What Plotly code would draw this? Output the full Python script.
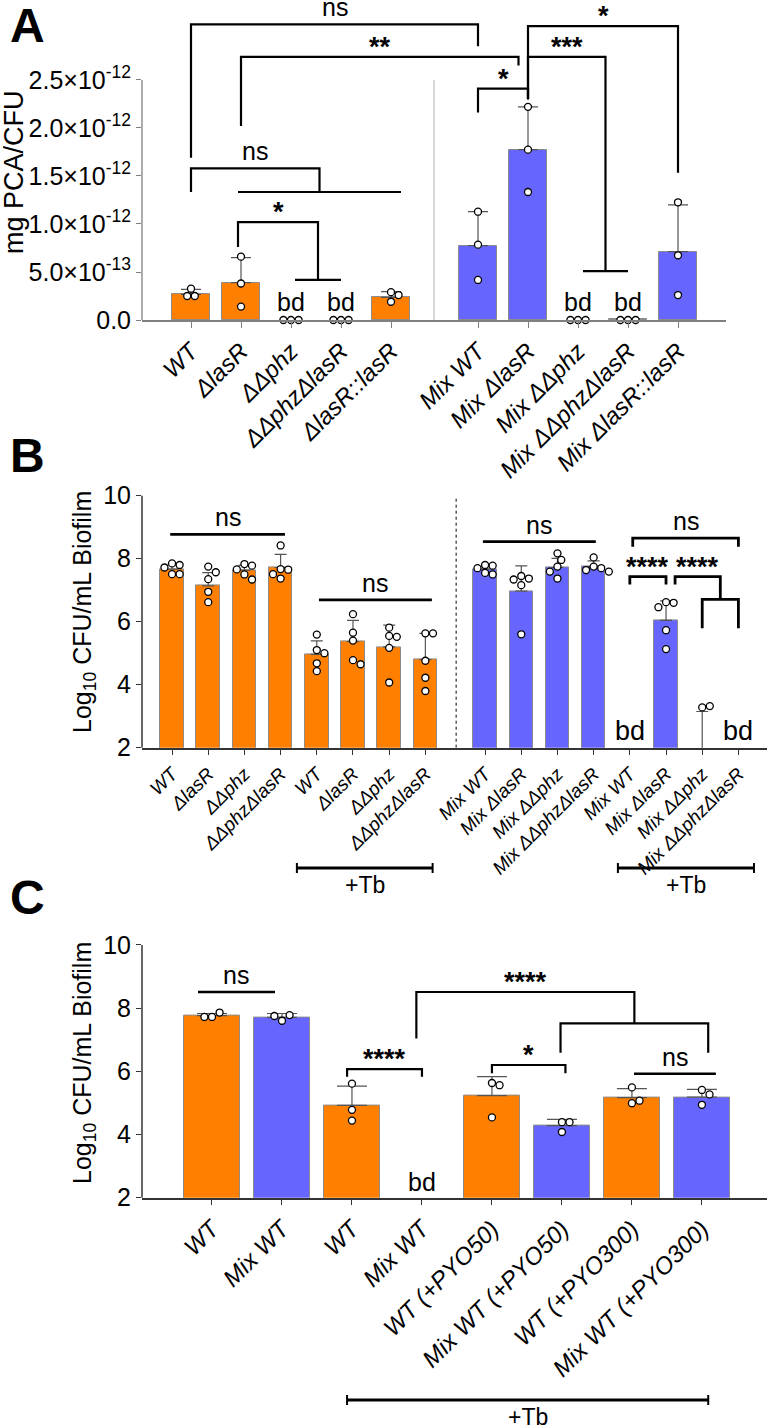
import plotly.graph_objects as go

W, H = 767, 1427
FONT = 'Liberation Sans, Arial, sans-serif'
ORANGE = '#FF8000'
BLUE = '#6666FF'

# ---- panel A : mg PCA/CFU (values in units of 1e-12) ----
a_labels = ['WT', 'ΔlasR', 'ΔΔphz', 'ΔΔphzΔlasR', 'ΔlasR::lasR',
            'Mix WT', 'Mix ΔlasR', 'Mix ΔΔphz', 'Mix ΔΔphzΔlasR', 'Mix ΔlasR::lasR']
a_mean = [0.267, 0.389, None, None, 0.236, 0.774, 1.774, None, 0.01, 0.712]
a_sd = [0.053, 0.26, 0, 0, 0.059, 0.354, 0.446, 0, 0, 0.488]
a_points = [[0.326, 0.25, 0.25], [0.66, 0.38, 0.14], [0, 0, 0], [0, 0, 0],
            [0.29, 0.26, 0.19], [1.128, 0.785, 0.417], [2.22, 1.774, 1.333],
            [0, 0, 0], [0, 0, 0], [1.226, 0.674, 0.26]]
a_bd = [2, 3, 7, 8]
a_yticks = [0, 0.5, 1.0, 1.5, 2.0, 2.5]
a_yticktext = ['0.0', '5.0×10<sup>-13</sup>', '1.0×10<sup>-12</sup>', '1.5×10<sup>-12</sup>',
               '2.0×10<sup>-12</sup>', '2.5×10<sup>-12</sup>']

# ---- panel B : Log10 CFU/mL biofilm ----
b_labels = ['WT', 'ΔlasR', 'ΔΔphz', 'ΔΔphzΔlasR', 'WT', 'ΔlasR', 'ΔΔphz', 'ΔΔphzΔlasR',
            'Mix WT', 'Mix ΔlasR', 'Mix ΔΔphz', 'Mix ΔΔphzΔlasR',
            'Mix WT', 'Mix ΔlasR', 'Mix ΔΔphz', 'Mix ΔΔphzΔlasR']
b_mean = [7.67, 7.14, 7.64, 7.72, 4.96, 5.37, 5.20, 4.80,
          7.67, 6.97, 7.72, 7.75, None, 6.04, 1.9, None]
b_sd = [0.13, 0.42, 0.15, 0.42, 0.43, 0.67, 0.69, 0.83,
        0.08, 0.80, 0.29, 0.18, 0, 0.62, 1.25, 0]
b_points = [[7.85, 7.8, 7.72, 7.51, 7.51], [7.75, 7.57, 7.35, 6.95, 6.62],
            [7.83, 7.78, 7.66, 7.5, 7.34], [8.42, 7.67, 7.65, 7.51, 7.37],
            [5.59, 5.1, 5.0, 4.68, 4.43], [6.24, 5.65, 5.4, 4.78, 4.65],
            [5.81, 5.55, 5.52, 5.17, 4.07], [5.63, 5.63, 4.76, 4.22, 3.8],
            [7.8, 7.78, 7.7, 7.55, 7.5], [7.45, 7.37, 7.34, 7.16, 5.6],
            [8.17, 7.96, 7.75, 7.59, 7.37], [8.04, 7.75, 7.7, 7.64, 7.59],
            [], [6.62, 6.6, 6.46, 5.73, 5.13], [3.28, 3.32], []]
b_bd = [12, 15]

# ---- panel C : Log10 CFU/mL biofilm, pyocyanin supplementation ----
c_labels = ['WT', 'Mix WT', 'WT', 'Mix WT', 'WT (+PYO50)', 'Mix WT (+PYO50)',
            'WT (+PYO300)', 'Mix WT (+PYO300)']
c_mean = [7.76, 7.71, 4.92, None, 5.23, 4.28, 5.17, 5.18]
c_sd = [0.07, 0.12, 0.61, 0, 0.60, 0.20, 0.28, 0.25]
c_points = [[7.72, 7.86, 7.72], [7.6, 7.78, 7.75], [5.61, 4.78, 4.44], [],
            [5.63, 5.56, 4.54], [4.39, 4.39, 4.08], [5.49, 4.99, 5.07], [5.41, 5.27, 4.94]]
c_bd = [3]
log_yticks = [2, 4, 6, 8, 10]

# positions (second group shifted to leave a gap)
pa = [i if i < 5 else i + 0.74 for i in range(len(a_labels))]
pb = [i if i < 8 else i + 0.65 for i in range(len(b_labels))]
pc = list(range(len(c_labels)))
a_colors = [ORANGE] * 5 + [BLUE] * 5
b_colors = [ORANGE] * 8 + [BLUE] * 8
c_colors = [ORANGE, BLUE] * 4


def mid(a, b):
    return (a + b) / 2


# panel geometry in pixels
geo = {
    '': dict(px=(142, 726), py=(0, 320), xr=(-0.98, 10.7), yr=(0, 3.333)),
    '2': dict(px=(142, 767), py=(489.4, 747.7), xr=(-0.83, 16.44), yr=(2, 10.2)),
    '3': dict(px=(142, 767), py=(938.6, 1197.7), xr=(-1.0, 7.93), yr=(2, 10.2)),
}
for g in geo.values():
    g['kx'] = (g['px'][1] - g['px'][0]) / (g['xr'][1] - g['xr'][0])
    g['ky'] = (g['py'][1] - g['py'][0]) / (g['yr'][1] - g['yr'][0])


def swarm(vals, kx, ky, diam=7.6):
    placed, offs = [], []
    for v in vals:
        y = v * ky
        side = 1 if sum(p[0] for p in placed) <= 0 else -1
        cands = sorted([k * diam / 2 for k in range(-10, 11)], key=lambda d: (abs(d), -side * d))
        for dx in cands:
            if all((dx - px) ** 2 + (y - py) ** 2 >= (diam * 0.97) ** 2 for px, py in placed):
                break
        placed.append((dx, y))
        offs.append(dx / kx)
    return offs


fig = go.Figure()
shapes, annos = [], []


def add_panel(s, pos, mean, sd, pts, colors, labels, bw, capw, tickfont, axcol):
    g = geo[s]
    fig.add_trace(go.Bar(
        x=pos, y=mean, width=bw, xaxis='x' + s, yaxis='y' + s, showlegend=False,
        marker=dict(color=colors, line=dict(color='#8c8c8c', width=1)),
        error_y=dict(type='data', symmetric=False, array=sd, arrayminus=[0] * len(sd),
                     color='#555555', thickness=1.2, width=capw)))
    xs, ys = [], []
    for p, vals in zip(pos, pts):
        for o, v in zip(swarm(vals, g['kx'], g['ky']), vals):
            xs.append(p + o)
            ys.append(v)
    fig.add_trace(go.Scatter(
        x=xs, y=ys, mode='markers', xaxis='x' + s, yaxis='y' + s, showlegend=False,
        cliponaxis=False,
        marker=dict(symbol='circle', size=7, color='white', line=dict(color='black', width=1.3))))
    fig.layout['xaxis' + s] = dict(
        domain=[g['px'][0] / W, g['px'][1] / W], range=list(g['xr']), anchor='y' + s,
        tickmode='array', tickvals=pos, ticktext=['<i>%s</i>' % t for t in labels],
        tickangle=-45, ticks='outside', ticklen=6, tickcolor=axcol, showline=True,
        linecolor=axcol, linewidth=1.5, showgrid=False, zeroline=False, automargin=False,
        tickfont=dict(family=FONT, size=tickfont, color='black'))


def seg(s, pts, width=2.2):
    path = 'M ' + ' L '.join('%g,%g' % p for p in pts)
    shapes.append(dict(type='path', path=path, xref='x' + s, yref='y' + s,
                       line=dict(color='black', width=width)))


def sig(s, x, y, text):
    if text == 'ns':
        font, shift = dict(family=FONT, size=25, color='black'), 1
    else:
        font, shift = dict(family=FONT, size=27, color='black'), -7
        text = '<b>%s</b>' % text
    annos.append(dict(x=x, y=y, xref='x' + s, yref='y' + s, text=text, showarrow=False,
                      yanchor='bottom', yshift=shift, font=font))


def bracket(s, xl, yl, xr, yr, top, text, width=2.2):
    seg(s, [(xl, yl), (xl, top), (xr, top), (xr, yr)], width)
    sig(s, mid(xl, xr), top, text)


def group(s, x0, x1, y, low=None, width=2.2):
    if low is None:
        seg(s, [(x0, y), (x1, y)], width)
    else:
        seg(s, [(x0, low), (x0, y), (x1, y), (x1, low)], width)


def hline_label(s, x0, x1, y, text, width=2.2):
    seg(s, [(x0, y), (x1, y)], width)
    sig(s, mid(x0, x1), y, text)


def bd(s, x, y, size, shift):
    annos.append(dict(x=x, y=y, xref='x' + s, yref='y' + s, text='bd', showarrow=False,
                      yanchor='bottom', yshift=shift, font=dict(family=FONT, size=size, color='black')))


# ---------------- panel A ----------------
add_panel('', pa, a_mean, a_sd, a_points, a_colors, a_labels, 0.77, 10, 24, '#808080')
fig.layout.yaxis = dict(domain=[1 - 320 / H, 1], range=list(geo['']['yr']), anchor='x',
                        tickmode='array', tickvals=a_yticks, ticktext=a_yticktext,
                        ticks='outside', ticklen=5, tickcolor='#808080', showline=False,
                        showgrid=False, zeroline=False, automargin=False,
                        tickfont=dict(family=FONT, size=25, color='black'))
shapes.append(dict(type='line', xref='x domain', yref='y', x0=0, x1=0, y0=0, y1=2.5,
                   line=dict(color='#808080', width=1.3)))
shapes.append(dict(type='line', xref='x', yref='y', x0=4.86, x1=4.86, y0=0, y1=2.5,
                   line=dict(color='#b0b0b0', width=1)))
for i in a_bd:
    bd('', pa[i], 0, 25, 2)
bracket('', pa[0], 1.69, pa[5], 2.85, 3.08, 'ns')
bracket('', pa[1], 2.02, pa[6] - 0.19, 2.65, 2.74, '**')
bracket('', pa[6], 2.30, pa[9], 1.535, 3.06, '*')
bracket('', pa[6], 2.30, mid(pa[7] + 0.1, pa[8]), 0.51, 2.74, '***')
group('', pa[7] + 0.1, pa[8], 0.51)
bracket('', pa[5], 2.16, pa[6], 2.30, 2.41, '*')
bracket('', pa[0], 1.333, mid(pa[1] - 0.06, pa[4] + 0.2), 1.333, 1.58, 'ns')
group('', pa[1] - 0.06, pa[4] + 0.2, 1.333)
bracket('', pa[1] - 0.06, 0.76, mid(pa[2] + 0.08, pa[3]), 0.417, 1.02, '*')
group('', pa[2] + 0.08, pa[3], 0.417)

# ---------------- panel B ----------------
add_panel('2', pb, b_mean, b_sd, b_points, b_colors, b_labels, 0.65, 6, 19, '#333333')
# ---------------- panel C ----------------
add_panel('3', pc, c_mean, c_sd, c_points, c_colors, c_labels, 0.8, 15, 24, '#333333')

for s, top, bottom in [('2', 489.4, 747.7), ('3', 938.6, 1197.7)]:
    fig.layout['yaxis' + s] = dict(
        domain=[1 - bottom / H, 1 - top / H], range=list(geo[s]['yr']), anchor='x' + s,
        tickmode='array', tickvals=log_yticks, ticks='outside', ticklen=5, tickcolor='#333333',
        showline=False, showgrid=False, zeroline=False, automargin=False,
        tickfont=dict(family=FONT, size=25, color='black'))
    shapes.append(dict(type='line', xref='x%s domain' % s, yref='y' + s, x0=0, x1=0, y0=2, y1=10,
                       line=dict(color='#333333', width=1.5)))

shapes.append(dict(type='line', xref='x2', yref='y2', x0=7.85, x1=7.85, y0=2, y1=10,
                   line=dict(color='black', width=1, dash='dot')))
for i in b_bd:
    bd('2', pb[i], 2, 27, 0)
hline_label('2', pb[0] - 0.05, pb[3] + 0.12, 8.77, 'ns', 2.8)
hline_label('2', pb[4] + 0.06, pb[7] + 0.18, 6.69, 'ns', 2.8)
hline_label('2', pb[8] - 0.06, pb[11] + 0.06, 8.54, 'ns', 2.8)
bracket('2', pb[12] + 0.08, 8.38, pb[15], 8.38, 8.65, 'ns', 2.8)
bracket('2', pb[12], 7.18, pb[13], 7.18, 7.43, '****', 2.8)
bracket('2', pb[13] + 0.25, 7.18, mid(pb[14], pb[15]), 6.71, 7.43, '****', 2.8)
group('2', pb[14], pb[15], 6.71, 5.79, 2.8)

for i in c_bd:
    bd('3', pc[i], 2, 25, 0)
hline_label('3', pc[0] - 0.2, pc[1] - 0.1, 8.51, 'ns', 2.5)
hline_label('3', pc[6] + 0.03, pc[7] + 0.2, 5.92, 'ns', 2.5)
bracket('3', pc[2] - 0.07, 5.83, pc[3], 5.83, 6.07, '****', 2.2)
bracket('3', pc[4], 5.94, pc[5] + 0.05, 5.94, 6.2, '*', 2.2)
bracket('3', pc[3] - 0.08, 7.04, mid(pc[5] - 0.02, pc[7] + 0.09), 7.52, 8.51, '****', 2.2)
group('3', pc[5] - 0.02, pc[7] + 0.09, 7.52, 6.59, 2.2)

# +Tb treatment bars under the category labels
for s, x0, x1, ypx in [('2', 3.45, 7.2, 868), ('2', 12.32, 16.08, 868), ('3', 1.93, 7.09, 1400)]:
    y = 1 - ypx / H
    shapes.append(dict(type='line', xref='x' + s, yref='paper', x0=x0, x1=x1, y0=y, y1=y,
                       line=dict(color='black', width=3)))
    for xe in (x0, x1):
        shapes.append(dict(type='line', xref='x' + s, yref='paper', x0=xe, x1=xe,
                           y0=y - 5 / H, y1=y + 5 / H, line=dict(color='black', width=2)))
    annos.append(dict(x=mid(x0, x1), y=1 - (ypx + 17) / H, xref='x' + s, yref='paper',
                      text='+Tb', showarrow=False, yanchor='middle',
                      font=dict(family=FONT, size=23, color='black')))

# axis titles and panel letters
for txt, xpx, ypx, size in [('mg PCA/CFU', 14, 172, 27),
                            ('Log<sub>10</sub> CFU/mL Biofilm', 84, 612, 25),
                            ('Log<sub>10</sub> CFU/mL Biofilm', 84, 1063, 25)]:
    annos.append(dict(x=xpx / W, y=1 - ypx / H, xref='paper', yref='paper', text=txt,
                      textangle=-90, showarrow=False, xanchor='center', yanchor='middle',
                      font=dict(family=FONT, size=size, color='black')))
for txt, ypx in [('A', 25), ('B', 455), ('C', 897)]:
    annos.append(dict(x=28 / W, y=1 - ypx / H, xref='paper', yref='paper', text='<b>%s</b>' % txt,
                      showarrow=False, xanchor='center', yanchor='middle',
                      font=dict(family=FONT, size=48, color='black')))

fig.update_layout(width=W, height=H, margin=dict(l=0, r=0, t=0, b=0),
                  plot_bgcolor='white', paper_bgcolor='white', bargap=0,
                  shapes=shapes, annotations=annos, font=dict(family=FONT))
# the page body has a default 8px margin; drop it so the figure sits at the window origin
fig.write_html('out.html', config={'displayModeBar': False},
               post_script="document.body.style.margin='0px';")
